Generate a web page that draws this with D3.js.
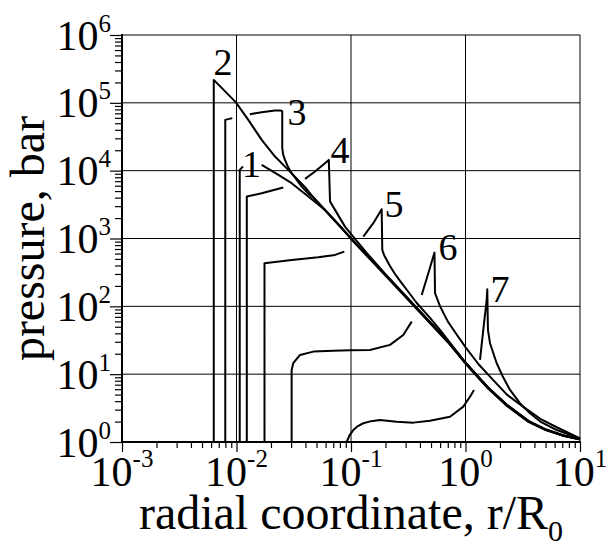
<!DOCTYPE html>
<html>
<head>
<meta charset="utf-8">
<script src="https://cdn.jsdelivr.net/npm/d3@7"></script>
<style>
body { margin: 0; background: #fff; }
svg { display: block; }
</style>
</head>
<body>
<div id="chart"></div>
<script>
// decades shown on the axes
const x_decades = [1e-3, 1e-2, 1e-1, 1e0, 1e1];
const x_tick_exponents = ['-3', '-2', '-1', '0', '1'];
const y_decades = [1e0, 1e1, 1e2, 1e3, 1e4, 1e5, 1e6];
const y_tick_exponents = ['0', '1', '2', '3', '4', '5', '6'];

// pressure profiles, [r/R0, pressure in bar]; null = break in the line
const curve_1 = [[0.01067, 1], [0.01067, 10280], [0.0114, 11490], null,
    [0.0166, 12190], [0.0232, 8670], [0.0303, 6540], [0.0424, 4150], [0.0593, 2643], [0.0829, 1440],
    [0.1, 985], [0.2, 284], [0.398, 82], [0.708, 29.1], [1.0, 14.3], [1.585, 6.1], [2.29, 3.43],
    [3.55, 1.98], [5.01, 1.50], [7.08, 1.24], [10, 1.09]];
const curve_2 = [[0.00633, 1], [0.00633, 218000], [0.00984, 102400], [0.01268, 56100], [0.0166, 28450],
    [0.0217, 16150], [0.0283, 10280], [0.0397, 5700], [0.0469, 4050], [0.1, 1000], [0.2, 288],
    [0.398, 83.2], [0.708, 29.5], [1.0, 14.5], [1.585, 6.17], [2.29, 3.47], [3.55, 2.0], [5.01, 1.51],
    [7.08, 1.245], [10, 1.096]];
const curve_3 = [[0.00798, 1], [0.00798, 56100], [0.00919, 59500], null,
    [0.0131, 68100], [0.0166, 72900], [0.0217, 76900], [0.0245, 76900], [0.0251, 75000],
    [0.0251, 21500], [0.0256, 17100], [0.0265, 14420], [0.0283, 11190], [0.0303, 9190], [0.0336, 7310],
    [0.0371, 5822], [0.0424, 4600], [0.0469, 4000], [0.1, 1015], [0.2, 292], [0.398, 84.5], [0.708, 30],
    [1.0, 14.7], [1.585, 6.25], [2.29, 3.52], [3.55, 2.02], [5.01, 1.52], [7.08, 1.25], [10, 1.10]];
const curve_4 = [[0.0123, 1], [0.0123, 4150], [0.0166, 4660], [0.0256, 5634], null,
    [0.0397, 7570], [0.0485, 9700], [0.0593, 12900], [0.064, 14420], [0.0656, 3500], [0.0725, 2643],
    [0.0886, 1497], [0.1084, 990], [0.137, 613], [0.2, 298], [0.398, 85.5], [0.708, 30.3], [1.0, 14.85],
    [1.585, 6.3], [2.29, 3.55], [3.55, 2.03], [5.01, 1.53], [7.08, 1.26], [10, 1.10]];
const curve_5 = [[0.01756, 1], [0.01756, 432], [0.0303, 483], [0.0518, 530], [0.0725, 573], [0.0874, 641], null,
    [0.128, 1067], [0.1566, 1682], [0.1853, 2704], [0.1876, 679], [0.1942, 573], [0.205, 483],
    [0.219, 394], [0.2423, 300], [0.268, 237], [0.3275, 152], [0.375, 112], [0.49, 67.4], [0.599, 44.9],
    [0.957, 16.2], [1.43, 7.34], [2.29, 3.58], [3.55, 2.05], [5.01, 1.54], [7.08, 1.26], [10, 1.10]];
const curve_6 = [[0.0303, 1], [0.0303, 11.5], [0.0313, 14.5], [0.0359, 19.2], [0.0469, 21.5], [0.07, 22.2],
    [0.098, 22.5], [0.1465, 22.7], [0.219, 27], [0.286, 37.8], [0.339, 59.5], null,
    [0.4145, 147], [0.4733, 308], [0.536, 620], [0.5417, 156], [0.6, 100], [0.7, 60], [0.8, 43],
    [1.0, 25], [1.3, 14], [1.637, 9.2], [2.3, 5.0], [3.2, 3.3], [4.5, 2.2], [6.26, 1.65], [10, 1.13]];
const curve_7 = [[0.0917, 1], [0.097, 1.25], [0.1047, 1.5], [0.115, 1.72], [0.128, 1.89], [0.15, 2.03],
    [0.179, 2.11], [0.2506, 1.99], [0.35, 1.93], [0.49, 2.06], [0.732, 2.36], [0.957, 3.32],
    [1.095, 4.66], [1.186, 5.85], null,
    [1.339, 16.2], [1.43, 44.9], [1.531, 124], [1.55, 179], [1.57, 44.9], [1.637, 28.6], [1.873, 14.5],
    [2.1, 9.5], [2.447, 5.85], [3.0, 3.7], [3.66, 2.65], [4.5, 2.0], [6.26, 1.50], [10, 1.13]];

const curve_names = ['1', '2', '3', '4', '5', '6', '7'];
const curve_list = [curve_1, curve_2, curve_3, curve_4, curve_5, curve_6, curve_7];
const label_r = [0.01352, 0.00762, 0.0338, 0.0802, 0.2374, 0.703, 2.0];
const label_p = [8180, 259000, 47300, 13030, 2104, 483, 117];

const svg_width = 607, svg_height = 541;
const plot_left = 122, plot_right = 580, plot_top = 35, plot_bottom = 442;
const font = "'Liberation Serif'";

let svg = d3.select('#chart').append('svg')
    .attr('width', svg_width)
    .attr('height', svg_height);

let x = d3.scaleLog().domain([1e-3, 1e1]).range([plot_left, plot_right]);
let y = d3.scaleLog().domain([1, 1e6]).range([plot_bottom, plot_top]);

// minor tick values 2..9 in every decade
let x_minor = [], y_minor = [];
x_decades.slice(0, -1).forEach(function (d) {
    for (let k = 2; k <= 9; k++) x_minor.push(d * k);
});
y_decades.slice(0, -1).forEach(function (d) {
    for (let k = 2; k <= 9; k++) y_minor.push(d * k);
});

// grid
svg.append('g').selectAll('line').data(x_decades.slice(1)).enter().append('line')
    .attr('x1', d => x(d)).attr('x2', d => x(d))
    .attr('y1', plot_top).attr('y2', plot_bottom)
    .style('stroke', '#000').style('stroke-width', 1);
svg.append('g').selectAll('line').data(y_decades.slice(1)).enter().append('line')
    .attr('x1', plot_left).attr('x2', plot_right)
    .attr('y1', d => y(d)).attr('y2', d => y(d))
    .style('stroke', '#000').style('stroke-width', 1);

// ticks
function tick_axis(axis) {
    return function (g) {
        g.call(axis);
        g.select('.domain').remove();
        g.selectAll('.tick line').style('stroke', '#000').style('stroke-width', 1.2);
    };
}
svg.append('g').attr('transform', 'translate(0,' + plot_bottom + ')')
    .call(tick_axis(d3.axisBottom(x).tickValues(x_minor).tickSize(6).tickFormat('')));
svg.append('g').attr('transform', 'translate(0,' + plot_bottom + ')')
    .call(tick_axis(d3.axisBottom(x).tickValues(x_decades).tickSize(10).tickFormat('')));
svg.append('g').attr('transform', 'translate(' + plot_left + ',0)')
    .call(tick_axis(d3.axisLeft(y).tickValues(y_minor).tickSize(7).tickFormat('')));
svg.append('g').attr('transform', 'translate(' + plot_left + ',0)')
    .call(tick_axis(d3.axisLeft(y).tickValues(y_decades).tickSize(12).tickFormat('')));

// axis lines
svg.append('line').attr('x1', plot_left).attr('x2', plot_left).attr('y1', plot_top - 1).attr('y2', plot_bottom + 1)
    .style('stroke', '#000').style('stroke-width', 2);
svg.append('line').attr('x1', plot_left - 1).attr('x2', plot_right + 1).attr('y1', plot_bottom).attr('y2', plot_bottom)
    .style('stroke', '#000').style('stroke-width', 2);

// tick labels 10^n
x_decades.forEach(function (d, i) {
    let t = svg.append('text')
        .attr('x', x(d)).attr('y', plot_bottom + 44)
        .attr('text-anchor', 'middle')
        .style('font-family', font)
        .style('font-size', '42px');
    t.append('tspan').text('10');
    t.append('tspan').attr('dy', -19).style('font-size', '25px').text(x_tick_exponents[i]);
});
y_decades.forEach(function (d, i) {
    let t = svg.append('text')
        .attr('x', plot_left - 11).attr('y', y(d) + 14.5)
        .attr('text-anchor', 'end')
        .style('font-family', font)
        .style('font-size', '42px');
    t.append('tspan').text('10');
    t.append('tspan').attr('dy', -18).style('font-size', '25px').text(y_tick_exponents[i]);
});

// curves
let line = d3.line()
    .defined(d => d !== null)
    .x(d => x(d[0]))
    .y(d => y(d[1]));

curve_list.forEach(function (c) {
    svg.append('path')
        .attr('d', line(c))
        .style('fill', 'none')
        .style('stroke', '#000')
        .style('stroke-width', 2)
        .style('stroke-linejoin', 'round');
});

curve_names.forEach(function (n, i) {
    svg.append('text')
        .attr('x', x(label_r[i])).attr('y', y(label_p[i]))
        .attr('text-anchor', 'middle')
        .style('font-family', font)
        .style('font-size', '38px')
        .text(n);
});

// axis titles
let x_title = svg.append('text')
    .attr('x', (plot_left + plot_right) / 2).attr('y', 529)
    .attr('text-anchor', 'middle')
    .style('font-family', font)
    .style('font-size', '48px');
x_title.append('tspan').text('radial coordinate, r/R');
x_title.append('tspan').attr('dy', 12).style('font-size', '30px').text('0');

svg.append('text')
    .attr('transform', 'translate(44,' + ((plot_top + plot_bottom) / 2) + ') rotate(-90)')
    .attr('text-anchor', 'middle')
    .style('font-family', font)
    .style('font-size', '48px')
    .text('pressure, bar');
</script>
</body>
</html>
